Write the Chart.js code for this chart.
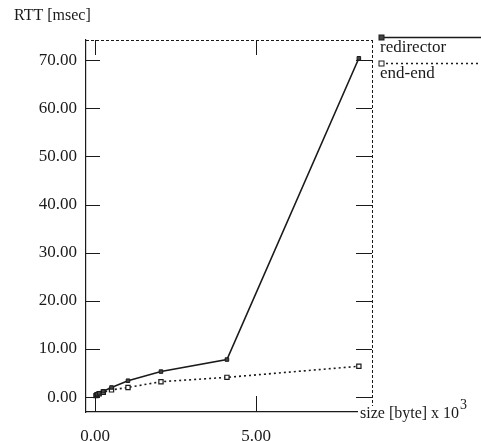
<!DOCTYPE html>
<html>
<head>
<meta charset="utf-8">
<script src="https://cdn.jsdelivr.net/npm/chart.js@4.4.1/dist/chart.umd.min.js"></script>
<style>
    html, body { margin: 0; padding: 0; background: #fff; }
    canvas { display: block; }
</style>
</head>
<body>
<canvas id="rttChart" width="481" height="441"></canvas>
<script>
// message sizes (x 10^3 byte)
const sizes = [0.032, 0.064, 0.128, 0.256, 0.512, 1.024, 2.048, 4.096, 8.192];
// RTT values in msec
const redirectorRtt = [0.4, 0.6, 0.8, 1.2, 2.0, 3.4, 5.3, 7.8, 70.4];
const endEndRtt = [0.3, 0.5, 0.7, 1.0, 1.5, 2.0, 3.2, 4.1, 6.4];
const seriesNames = ["redirector", "end-end"];
const yTicks = [0, 10, 20, 30, 40, 50, 60, 70];
const xTicks = [0, 5];

const serif = "'Liberation Serif', 'DejaVu Serif', serif";
const ink = "#1a1a1a";

function toPoints(values) {
    return sizes.map((x, i) => ({ x: x, y: values[i] }));
}

// ticks inside the frame on all four sides, dashed top/right frame, titles, legend
const decorPlugin = {
    id: "decor",
    afterDraw(chart) {
        const ctx = chart.ctx;
        const area = chart.chartArea;
        const xs = chart.scales.x;
        const ys = chart.scales.y;
        ctx.save();
        ctx.strokeStyle = ink;
        ctx.lineWidth = 1;

        // dashed top and right frame
        ctx.setLineDash([3, 2]);
        ctx.beginPath();
        ctx.moveTo(area.left, area.top + 0.5);
        ctx.lineTo(area.right, area.top + 0.5);
        ctx.moveTo(area.right + 0.5, area.top);
        ctx.lineTo(area.right + 0.5, area.bottom - 6);
        ctx.stroke();
        ctx.setLineDash([]);

        ctx.beginPath();
        yTicks.forEach((v) => {
            const py = Math.round(ys.getPixelForValue(v)) + 0.5;
            ctx.moveTo(area.left, py);
            ctx.lineTo(area.left + 14, py);
            ctx.moveTo(area.right, py);
            ctx.lineTo(area.right - 16, py);
        });
        xTicks.forEach((v) => {
            const px = Math.round(xs.getPixelForValue(v)) + 0.5;
            ctx.moveTo(px, area.bottom);
            ctx.lineTo(px, area.bottom - 16);
            ctx.moveTo(px, area.top);
            ctx.lineTo(px, area.top + 15);
        });
        ctx.stroke();

        // axis titles
        ctx.fillStyle = ink;
        ctx.font = "16px " + serif;
        ctx.textAlign = "left";
        ctx.textBaseline = "alphabetic";
        ctx.fillText("RTT [msec]", 14, 20);
        const xTitle = "size [byte] x 10";
        ctx.fillStyle = "#fff";
        ctx.fillRect(358, 406, 123, 14);
        ctx.fillStyle = ink;
        ctx.fillText(xTitle, 360, 418);
        const w = ctx.measureText(xTitle).width;
        ctx.font = "14px " + serif;
        ctx.fillText("3", 360 + w + 1, 409);

        // legend
        const rows = [37, 63];
        chart.data.datasets.forEach((ds, i) => {
            const y = rows[i] + 0.5;
            ctx.strokeStyle = ds.borderColor;
            ctx.lineWidth = ds.borderWidth;
            ctx.setLineDash(ds.borderDash || []);
            ctx.beginPath();
            ctx.moveTo(381, y);
            ctx.lineTo(481, y);
            ctx.stroke();
            ctx.setLineDash([]);
            ctx.lineWidth = 1;
            ctx.fillStyle = ds.pointBackgroundColor;
            ctx.fillRect(379, y - 2.5, 5, 5);
            ctx.strokeRect(379, y - 2.5, 5, 5);
            ctx.fillStyle = ink;
            ctx.font = "17px " + serif;
            ctx.fillText(ds.label, 380, rows[i] + 15);
        });
        ctx.restore();
    },
};

new Chart(document.getElementById("rttChart"), {
    type: "line",
    data: {
        datasets: [
            {
                label: seriesNames[0],
                data: toPoints(redirectorRtt),
                borderColor: ink,
                borderWidth: 1.6,
                pointStyle: "rect",
                pointRadius: 2.5,
                pointBackgroundColor: "#444",
                pointBorderColor: ink,
                pointBorderWidth: 1,
            },
            {
                label: seriesNames[1],
                data: toPoints(endEndRtt),
                borderColor: ink,
                borderWidth: 1.6,
                borderDash: [2, 3],
                pointStyle: "rect",
                pointRadius: 3,
                pointBackgroundColor: "#fff",
                pointBorderColor: ink,
                pointBorderWidth: 1.2,
            },
        ],
    },
    options: {
        responsive: false,
        animation: false,
        layout: { padding: { top: 40, right: 109, left: 0, bottom: 0 } },
        plugins: {
            legend: { display: false },
            tooltip: { enabled: false },
        },
        scales: {
            x: {
                type: "linear",
                min: -0.28,
                max: 8.6,
                afterFit(scale) { scale.height = 29; },
                afterBuildTicks(scale) { scale.ticks = xTicks.map((v) => ({ value: v })); },
                border: { display: true, color: ink, width: 1.2 },
                grid: { display: false, drawTicks: false },
                ticks: {
                    padding: 14,
                    color: ink,
                    font: { family: serif, size: 17 },
                    callback: (v) => Number(v).toFixed(2),
                },
            },
            y: {
                min: -3.1,
                max: 74.2,
                afterFit(scale) { scale.width = 86; },
                afterBuildTicks(scale) { scale.ticks = yTicks.map((v) => ({ value: v })); },
                border: { display: true, color: ink, width: 1.2 },
                grid: { display: false, drawTicks: false },
                ticks: {
                    padding: 9,
                    color: ink,
                    font: { family: serif, size: 17 },
                    callback: (v) => Number(v).toFixed(2),
                },
            },
        },
    },
    plugins: [decorPlugin],
});
</script>
</body>
</html>
